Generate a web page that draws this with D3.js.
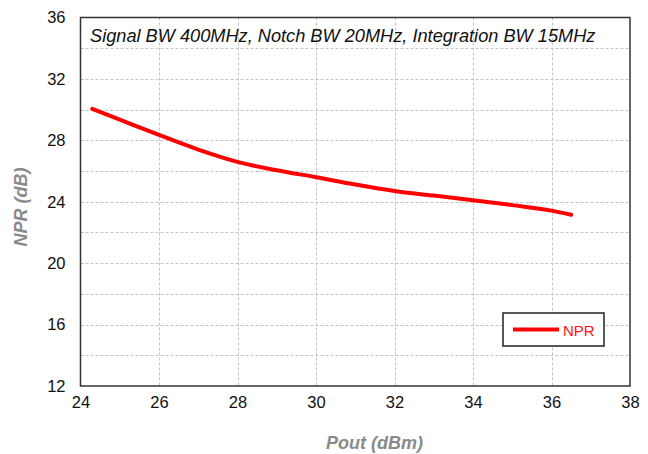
<!DOCTYPE html>
<html>
<head>
<meta charset="utf-8">
<script src="https://cdn.jsdelivr.net/npm/d3@7"></script>
<style>
  html, body { margin: 0; padding: 0; background: #fff; }
  svg { display: block; }
</style>
</head>
<body>
<svg id="chart" width="648" height="454"></svg>
<script>
// Pout (dBm) sweep and the measured noise power ratio
const poutDbm = [24.3, 25, 26, 27, 28, 29, 30, 31, 32, 33, 34, 35, 36, 36.5];
const nprDb   = [30.05, 29.35, 28.35, 27.4, 26.6, 26.05, 25.6, 25.12, 24.7, 24.4, 24.1, 23.78, 23.42, 23.15];

const xTicks = [24, 26, 28, 30, 32, 34, 36, 38];
const yTicks = [12, 16, 20, 24, 28, 32, 36];
const yGrid  = [14, 16, 18, 20, 22, 24, 26, 28, 30, 32, 34];
const xGrid  = [26, 28, 30, 32, 34, 36];

const titleText = "Signal BW 400MHz, Notch BW 20MHz, Integration BW 15MHz";
const xLabel = "Pout (dBm)";
const yLabel = "NPR (dB)";
const seriesName = "NPR";

const svg = d3.select("#chart");
const m = { left: 80.5, right: 630, top: 17.5, bottom: 386 };

const x = d3.scaleLinear().domain([24, 38]).range([m.left, m.right]);
const y = d3.scaleLinear().domain([12, 36]).range([m.bottom, m.top]);

// grid
const grid = svg.append("g").attr("stroke", "#c4c4c4").attr("stroke-width", 1)
  .attr("stroke-dasharray", "3,2");
grid.selectAll("line.v").data(xGrid).join("line")
  .attr("x1", d => Math.round(x(d)) + 0.5).attr("x2", d => Math.round(x(d)) + 0.5)
  .attr("y1", m.top).attr("y2", m.bottom);
grid.selectAll("line.h").data(yGrid).join("line")
  .attr("y1", d => Math.round(y(d)) + 0.5).attr("y2", d => Math.round(y(d)) + 0.5)
  .attr("x1", m.left).attr("x2", m.right);

// axes (labels only; the frame is drawn as a box)
const tickFont = "16.5px 'Liberation Sans', Arial, sans-serif";
const xAxis = svg.append("g").attr("transform", `translate(0,${m.bottom})`)
  .call(d3.axisBottom(x).tickValues(xTicks).tickSize(0).tickPadding(10).tickFormat(d3.format("d")));
xAxis.select(".domain").remove();
xAxis.selectAll("text").style("font", tickFont).attr("fill", "#111");

const yAxis = svg.append("g").attr("transform", `translate(${m.left},0)`)
  .call(d3.axisLeft(y).tickValues(yTicks).tickSize(0).tickPadding(15).tickFormat(d3.format("d")));
yAxis.select(".domain").remove();
yAxis.selectAll("text").style("font", tickFont).attr("fill", "#111");

// frame
svg.append("rect")
  .attr("x", m.left).attr("y", m.top)
  .attr("width", m.right - m.left).attr("height", m.bottom - m.top)
  .attr("fill", "none").attr("stroke", "#333").attr("stroke-width", 1.5);

// NPR curve
const line = d3.line().x((d, i) => x(poutDbm[i])).y(d => y(d)).curve(d3.curveMonotoneX);
svg.append("path").datum(nprDb)
  .attr("d", line)
  .attr("fill", "none").attr("stroke", "#ff0000").attr("stroke-width", 4)
  .attr("stroke-linecap", "round");

// title inside plot
svg.append("text")
  .attr("x", 90).attr("y", 42)
  .style("font", "italic 18.2px 'Liberation Sans', Arial, sans-serif")
  .attr("fill", "#111")
  .text(titleText);

// axis titles
svg.append("text")
  .attr("x", 374.5).attr("y", 449)
  .attr("text-anchor", "middle")
  .style("font", "italic bold 18px 'Liberation Sans', Arial, sans-serif")
  .attr("fill", "#8a8a8a")
  .text(xLabel);

svg.append("text")
  .attr("transform", "translate(27,207) rotate(-90)")
  .attr("text-anchor", "middle")
  .style("font", "italic bold 18px 'Liberation Sans', Arial, sans-serif")
  .attr("fill", "#8a8a8a")
  .text(yLabel);

// legend
const lg = svg.append("g");
lg.append("rect")
  .attr("x", 503).attr("y", 313).attr("width", 101).attr("height", 33)
  .attr("fill", "#fff").attr("stroke", "#222").attr("stroke-width", 1.5);
lg.append("line")
  .attr("x1", 513).attr("x2", 559).attr("y1", 329.5).attr("y2", 329.5)
  .attr("stroke", "#ff0000").attr("stroke-width", 4);
lg.append("text")
  .attr("x", 563).attr("y", 336)
  .style("font", "15px 'Liberation Sans', Arial, sans-serif")
  .attr("fill", "#ff1010")
  .text(seriesName);
</script>
</body>
</html>
